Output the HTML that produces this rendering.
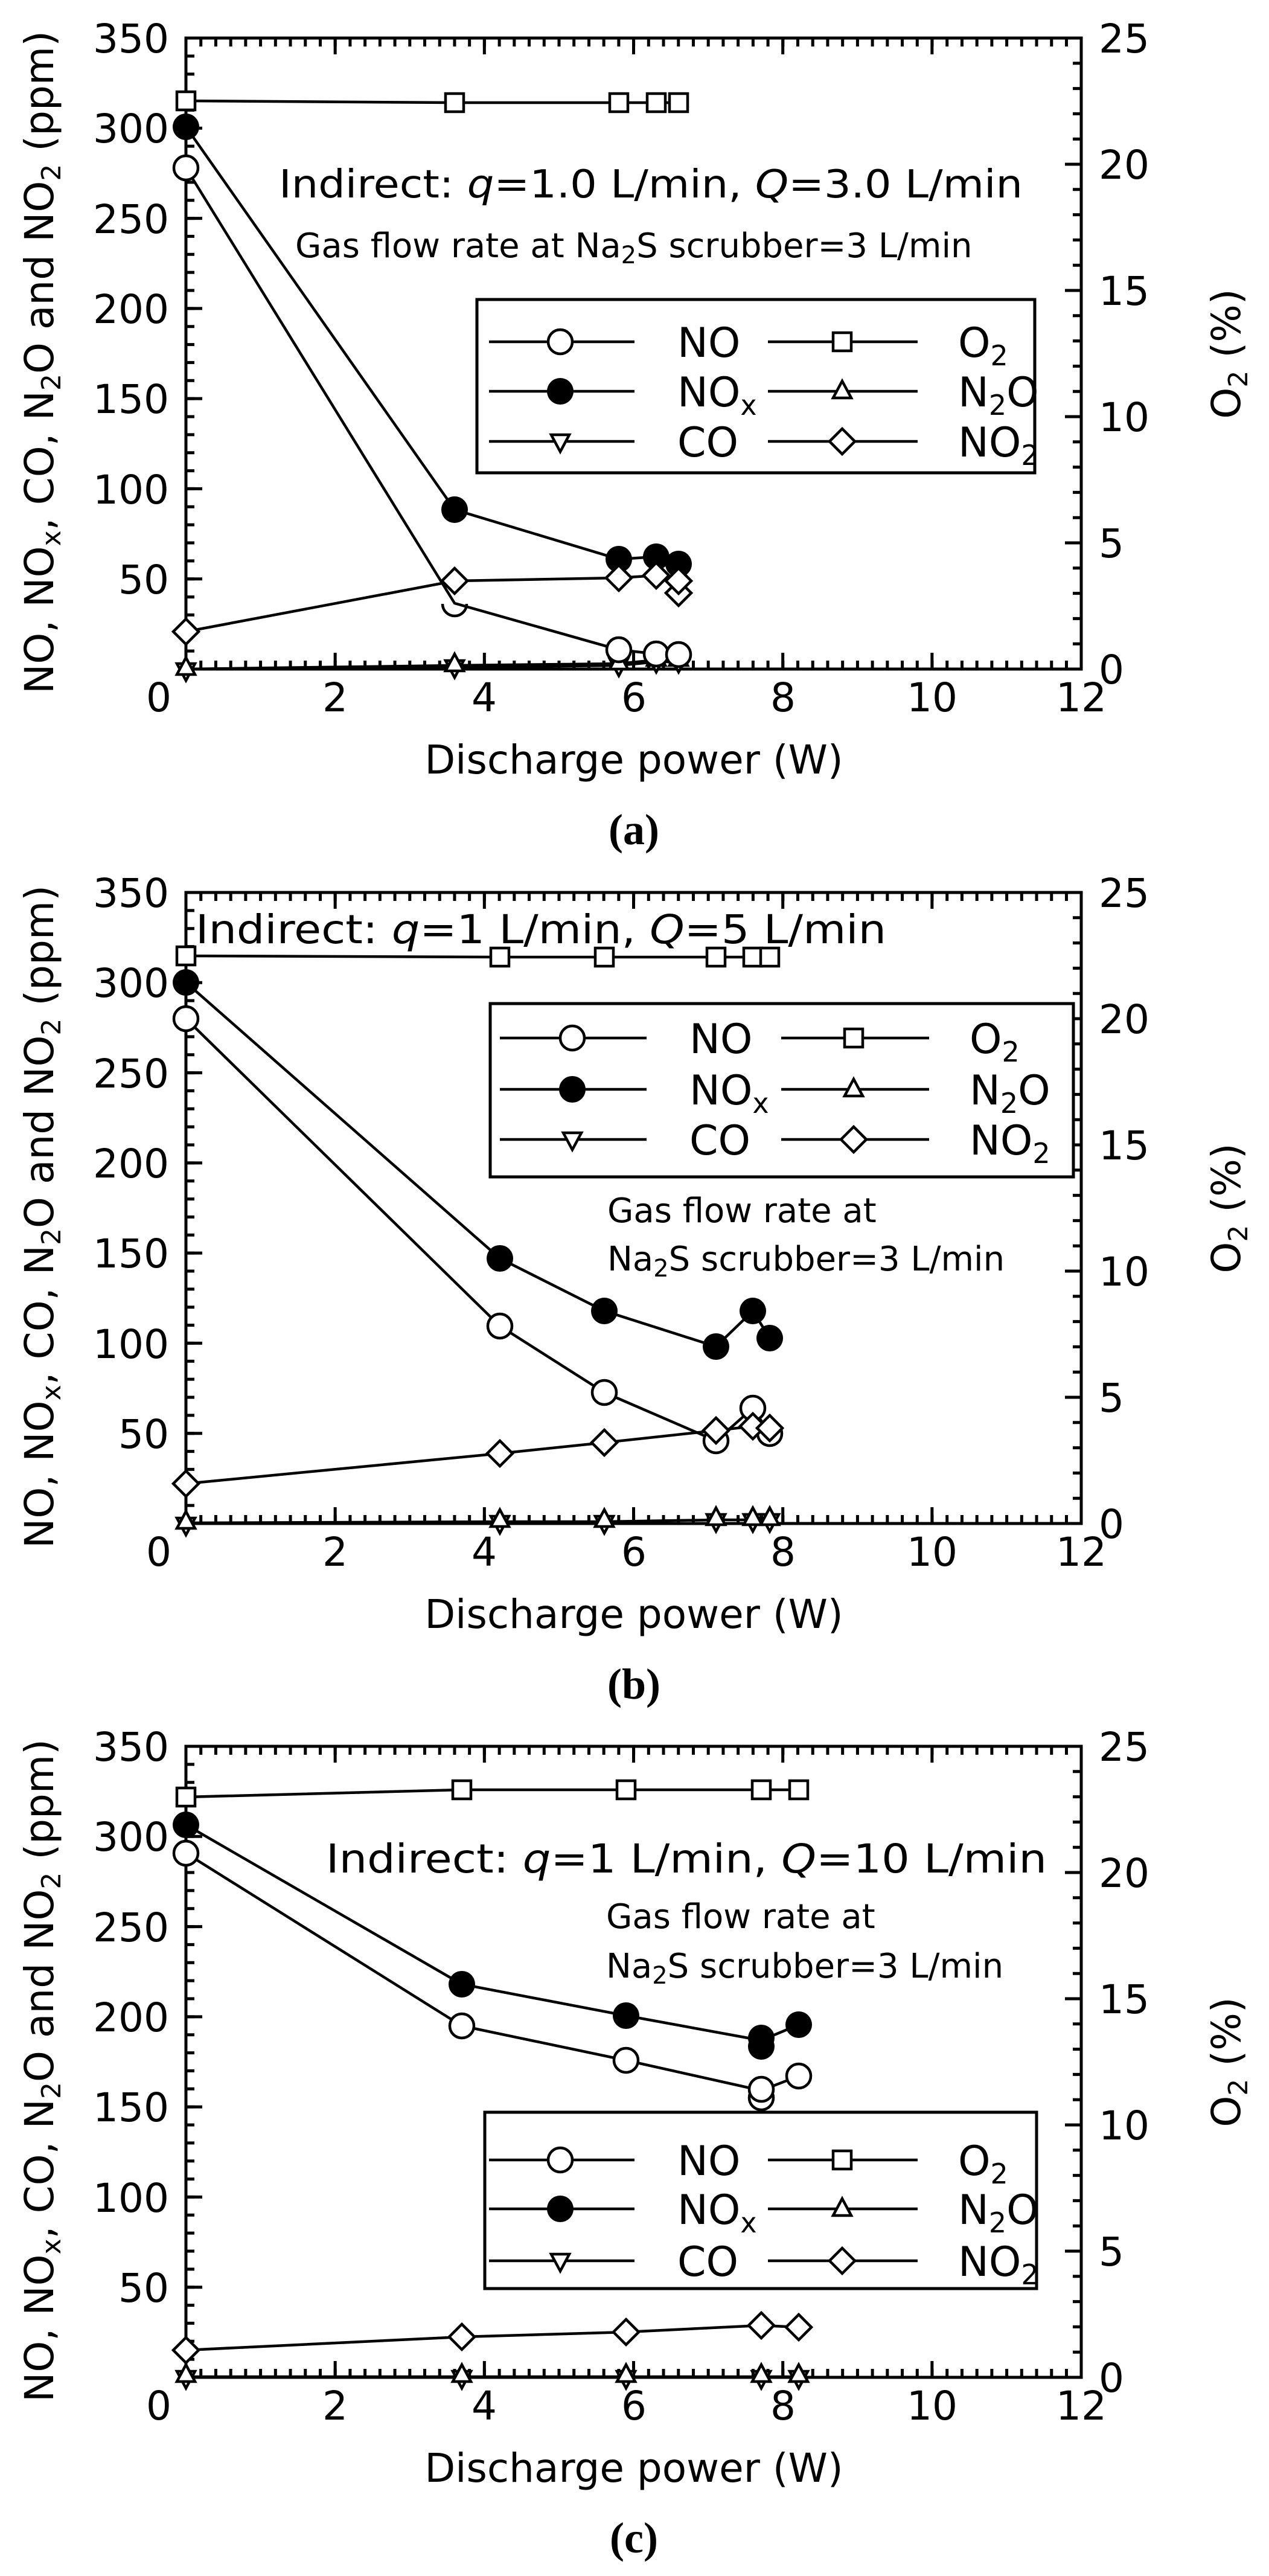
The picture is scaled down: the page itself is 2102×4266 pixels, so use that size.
<!DOCTYPE html>
<html><head><meta charset="utf-8"><style>
html,body{margin:0;padding:0;background:#fff}
svg{display:block}
text{font-family:"DejaVu Sans","Liberation Sans",sans-serif;fill:#000}
.cap{font-family:"Liberation Serif",serif;font-weight:bold;font-size:72px}
.tk{fill:none;stroke:#000}
</style></head><body>
<svg width="2102" height="4266" viewBox="0 0 2102 4266" xmlns="http://www.w3.org/2000/svg">
<defs>
<g id="oc"><circle r="20" fill="#fff" stroke="#000" stroke-width="4.5"/></g>
<g id="fc"><circle r="22" fill="#000"/></g>
<g id="sq"><rect x="-15" y="-15" width="30" height="30" fill="#fff" stroke="#000" stroke-width="4.5"/></g>
<g id="tu"><path d="M0,-17 L15,11 L-15,11 Z" fill="#fff" stroke="#000" stroke-width="4.5"/></g>
<g id="td"><path d="M0,17 L15,-11 L-15,-11 Z" fill="#fff" stroke="#000" stroke-width="4.5"/></g>
<g id="dm"><path d="M0,-21 L21,0 L0,21 L-21,0 Z" fill="#fff" stroke="#000" stroke-width="4.5"/></g>
</defs>

<!-- frames with ticks -->
<g transform="translate(0,63)">
 <line class="tk" x1="315" y1="0" x2="315" y2="1045" stroke-width="14" stroke-dasharray="5 24.857" stroke-dashoffset="2.5"/>
 <line class="tk" x1="321.5" y1="0" x2="321.5" y2="1045" stroke-width="27" stroke-dasharray="5 144.286" stroke-dashoffset="2.5"/>
 <line class="tk" x1="1784" y1="0" x2="1784" y2="1045" stroke-width="14" stroke-dasharray="5 36.8" stroke-dashoffset="2.5"/>
 <line class="tk" x1="1777.5" y1="0" x2="1777.5" y2="1045" stroke-width="27" stroke-dasharray="5 204" stroke-dashoffset="2.5"/>
 <line class="tk" x1="308" y1="7" x2="1791" y2="7" stroke-width="14" stroke-dasharray="5 19.72" stroke-dashoffset="2.5"/>
 <line class="tk" x1="308" y1="13.5" x2="1791" y2="13.5" stroke-width="27" stroke-dasharray="5 242.17" stroke-dashoffset="2.5"/>
 <line class="tk" x1="308" y1="1038" x2="1791" y2="1038" stroke-width="14" stroke-dasharray="5 19.72" stroke-dashoffset="2.5"/>
 <line class="tk" x1="308" y1="1031.5" x2="1791" y2="1031.5" stroke-width="27" stroke-dasharray="5 242.17" stroke-dashoffset="2.5"/>
 <rect x="308" y="0" width="1483" height="1045" fill="none" stroke="#000" stroke-width="5"/>
</g>
<g transform="translate(0,1478)">
 <line class="tk" x1="315" y1="0" x2="315" y2="1045" stroke-width="14" stroke-dasharray="5 24.857" stroke-dashoffset="2.5"/>
 <line class="tk" x1="321.5" y1="0" x2="321.5" y2="1045" stroke-width="27" stroke-dasharray="5 144.286" stroke-dashoffset="2.5"/>
 <line class="tk" x1="1784" y1="0" x2="1784" y2="1045" stroke-width="14" stroke-dasharray="5 36.8" stroke-dashoffset="2.5"/>
 <line class="tk" x1="1777.5" y1="0" x2="1777.5" y2="1045" stroke-width="27" stroke-dasharray="5 204" stroke-dashoffset="2.5"/>
 <line class="tk" x1="308" y1="7" x2="1791" y2="7" stroke-width="14" stroke-dasharray="5 19.72" stroke-dashoffset="2.5"/>
 <line class="tk" x1="308" y1="13.5" x2="1791" y2="13.5" stroke-width="27" stroke-dasharray="5 242.17" stroke-dashoffset="2.5"/>
 <line class="tk" x1="308" y1="1038" x2="1791" y2="1038" stroke-width="14" stroke-dasharray="5 19.72" stroke-dashoffset="2.5"/>
 <line class="tk" x1="308" y1="1031.5" x2="1791" y2="1031.5" stroke-width="27" stroke-dasharray="5 242.17" stroke-dashoffset="2.5"/>
 <rect x="308" y="0" width="1483" height="1045" fill="none" stroke="#000" stroke-width="5"/>
</g>
<g transform="translate(0,2892)">
 <line class="tk" x1="315" y1="0" x2="315" y2="1045" stroke-width="14" stroke-dasharray="5 24.857" stroke-dashoffset="2.5"/>
 <line class="tk" x1="321.5" y1="0" x2="321.5" y2="1045" stroke-width="27" stroke-dasharray="5 144.286" stroke-dashoffset="2.5"/>
 <line class="tk" x1="1784" y1="0" x2="1784" y2="1045" stroke-width="14" stroke-dasharray="5 36.8" stroke-dashoffset="2.5"/>
 <line class="tk" x1="1777.5" y1="0" x2="1777.5" y2="1045" stroke-width="27" stroke-dasharray="5 204" stroke-dashoffset="2.5"/>
 <line class="tk" x1="308" y1="7" x2="1791" y2="7" stroke-width="14" stroke-dasharray="5 19.72" stroke-dashoffset="2.5"/>
 <line class="tk" x1="308" y1="13.5" x2="1791" y2="13.5" stroke-width="27" stroke-dasharray="5 242.17" stroke-dashoffset="2.5"/>
 <line class="tk" x1="308" y1="1038" x2="1791" y2="1038" stroke-width="14" stroke-dasharray="5 19.72" stroke-dashoffset="2.5"/>
 <line class="tk" x1="308" y1="1031.5" x2="1791" y2="1031.5" stroke-width="27" stroke-dasharray="5 242.17" stroke-dashoffset="2.5"/>
 <rect x="308" y="0" width="1483" height="1045" fill="none" stroke="#000" stroke-width="5"/>
</g>

<!-- ================= PANEL A (T=63) ================= -->
<g font-size="66">
<g text-anchor="end">
<text x="280" y="87">350</text><text x="280" y="236">300</text><text x="280" y="386">250</text>
<text x="280" y="535">200</text><text x="280" y="684">150</text><text x="280" y="834">100</text><text x="280" y="983">50</text>
</g>
<g>
<text x="1820" y="87">25</text><text x="1820" y="296">20</text><text x="1820" y="505">15</text>
<text x="1820" y="714">10</text><text x="1820" y="923">5</text><text x="1820" y="1132">0</text>
</g>
<g text-anchor="middle">
<text x="263" y="1178">0</text><text x="555" y="1178">2</text><text x="802" y="1178">4</text><text x="1050" y="1178">6</text>
<text x="1297" y="1178">8</text><text x="1544" y="1178">10</text><text x="1791" y="1178">12</text>
<text x="1050" y="1281">Discharge power (W)</text>
</g>
</g>
<text x="1050" y="1398" text-anchor="middle" class="cap">(a)</text>
<text transform="translate(88,600) rotate(-90)" text-anchor="middle" font-size="66">NO, NO<tspan font-size="44" dy="12">x</tspan><tspan dy="-12">, CO, N</tspan><tspan font-size="44" dy="12">2</tspan><tspan dy="-12">O and NO</tspan><tspan font-size="44" dy="12">2</tspan><tspan dy="-12"> (ppm)</tspan></text>
<text transform="translate(2054,586) rotate(-90)" text-anchor="middle" font-size="66">O<tspan font-size="44" dy="12">2</tspan><tspan dy="-12"> (%)</tspan></text>
<text x="462" y="327" font-size="64" textLength="1232" lengthAdjust="spacingAndGlyphs">Indirect: <tspan font-style="italic">q</tspan>=1.0 L/min, <tspan font-style="italic">Q</tspan>=3.0 L/min</text>
<text x="489" y="426" font-size="56">Gas flow rate at Na<tspan font-size="40" dy="10">2</tspan><tspan dy="-10">S scrubber=3 L/min</tspan></text>
<rect x="790" y="496" width="924" height="287" fill="#fff" stroke="#000" stroke-width="5"/>
<g stroke="#000" stroke-width="4.5">
<line x1="810" y1="566" x2="1051" y2="566"/><line x1="810" y1="648" x2="1051" y2="648"/><line x1="810" y1="731" x2="1051" y2="731"/>
<line x1="1272" y1="566" x2="1520" y2="566"/><line x1="1272" y1="648" x2="1520" y2="648"/><line x1="1272" y1="731" x2="1520" y2="731"/>
</g>
<use href="#oc" x="928" y="566"/><use href="#fc" x="928" y="648"/><use href="#td" x="928" y="731"/>
<use href="#sq" x="1395" y="566"/><use href="#tu" x="1395" y="648"/><use href="#dm" x="1395" y="731"/>
<g font-size="68">
<text x="1122" y="591">NO</text><text x="1122" y="673">NO<tspan font-size="46" dy="14">x</tspan></text><text x="1122" y="756">CO</text>
<text x="1587" y="591">O<tspan font-size="46" dy="14">2</tspan></text><text x="1587" y="673">N<tspan font-size="46" dy="14">2</tspan><tspan dy="-14">O</tspan></text><text x="1587" y="756">NO<tspan font-size="46" dy="14">2</tspan></text>
</g>
<g fill="none" stroke="#000" stroke-width="4.5">
<polyline points="308,167 753,170 1025,170 1087,170 1124,170"/>
<polyline points="308,210 753,844 1025,926 1087,922 1124,934"/>
<polyline points="308,278 753,999 1025,1076 1087,1083 1124,1084"/>
<polyline points="308,1046 753,962 1025,957 1087,953 1124,962 1124,982"/>
<polyline points="308,1108 753,1102 1025,1099 1087,1093 1124,1093"/>
<polyline points="308,1108 753,1105 1025,1102 1087,1096 1124,1096"/>
</g>
<g>
<use href="#td" x="308" y="1110"/><use href="#td" x="753" y="1105"/><use href="#td" x="1025" y="1102"/><use href="#td" x="1087" y="1096"/><use href="#td" x="1124" y="1096"/>
<use href="#tu" x="308" y="1106"/><use href="#tu" x="753" y="1100"/><use href="#tu" x="1025" y="1097"/><use href="#tu" x="1087" y="1091"/><use href="#tu" x="1124" y="1091"/>
<use href="#oc" x="308" y="278"/><path d="M733,1000 A20,20 0 0 0 773,1000" fill="none" stroke="#000" stroke-width="4.5"/><use href="#oc" x="1025" y="1076"/><use href="#oc" x="1087" y="1083"/><use href="#oc" x="1124" y="1084"/>
<use href="#fc" x="308" y="210"/><use href="#fc" x="753" y="844"/><use href="#fc" x="1025" y="926"/><use href="#fc" x="1087" y="922"/><use href="#fc" x="1124" y="934"/>
<use href="#dm" x="308" y="1046"/><use href="#dm" x="753" y="962"/><use href="#dm" x="1025" y="957"/><use href="#dm" x="1087" y="953"/><use href="#dm" x="1124" y="982"/><use href="#dm" x="1124" y="962"/>
<use href="#sq" x="308" y="167"/><use href="#sq" x="753" y="170"/><use href="#sq" x="1025" y="170"/><use href="#sq" x="1087" y="170"/><use href="#sq" x="1124" y="170"/>
</g>

<!-- ================= PANEL B (T=1478) ================= -->
<g font-size="66">
<g text-anchor="end">
<text x="280" y="1502">350</text><text x="280" y="1651">300</text><text x="280" y="1801">250</text>
<text x="280" y="1950">200</text><text x="280" y="2099">150</text><text x="280" y="2249">100</text><text x="280" y="2398">50</text>
</g>
<g>
<text x="1820" y="1502">25</text><text x="1820" y="1711">20</text><text x="1820" y="1920">15</text>
<text x="1820" y="2129">10</text><text x="1820" y="2338">5</text><text x="1820" y="2547">0</text>
</g>
<g text-anchor="middle">
<text x="263" y="2593">0</text><text x="555" y="2593">2</text><text x="802" y="2593">4</text><text x="1050" y="2593">6</text>
<text x="1297" y="2593">8</text><text x="1544" y="2593">10</text><text x="1791" y="2593">12</text>
<text x="1050" y="2696">Discharge power (W)</text>
</g>
</g>
<text x="1050" y="2813" text-anchor="middle" class="cap">(b)</text>
<text transform="translate(88,2015) rotate(-90)" text-anchor="middle" font-size="66">NO, NO<tspan font-size="44" dy="12">x</tspan><tspan dy="-12">, CO, N</tspan><tspan font-size="44" dy="12">2</tspan><tspan dy="-12">O and NO</tspan><tspan font-size="44" dy="12">2</tspan><tspan dy="-12"> (ppm)</tspan></text>
<text transform="translate(2054,2001) rotate(-90)" text-anchor="middle" font-size="66">O<tspan font-size="44" dy="12">2</tspan><tspan dy="-12"> (%)</tspan></text>
<text x="324" y="1562" font-size="66" textLength="1144" lengthAdjust="spacingAndGlyphs">Indirect: <tspan font-style="italic">q</tspan>=1 L/min, <tspan font-style="italic">Q</tspan>=5 L/min</text>
<text x="1006" y="2024" font-size="56">Gas flow rate at</text>
<text x="1006" y="2104" font-size="56">Na<tspan font-size="40" dy="10">2</tspan><tspan dy="-10">S scrubber=3 L/min</tspan></text>
<rect x="812" y="1662" width="966" height="287" fill="#fff" stroke="#000" stroke-width="5"/>
<g stroke="#000" stroke-width="4.5">
<line x1="828" y1="1719" x2="1071" y2="1719"/><line x1="828" y1="1804" x2="1071" y2="1804"/><line x1="828" y1="1887" x2="1071" y2="1887"/>
<line x1="1294" y1="1719" x2="1539" y2="1719"/><line x1="1294" y1="1804" x2="1539" y2="1804"/><line x1="1294" y1="1887" x2="1539" y2="1887"/>
</g>
<use href="#oc" x="948" y="1719"/><use href="#fc" x="948" y="1804"/><use href="#td" x="948" y="1887"/>
<use href="#sq" x="1414" y="1719"/><use href="#tu" x="1414" y="1804"/><use href="#dm" x="1414" y="1887"/>
<g font-size="68">
<text x="1142" y="1744">NO</text><text x="1142" y="1829">NO<tspan font-size="46" dy="14">x</tspan></text><text x="1142" y="1912">CO</text>
<text x="1606" y="1744">O<tspan font-size="46" dy="14">2</tspan></text><text x="1606" y="1829">N<tspan font-size="46" dy="14">2</tspan><tspan dy="-14">O</tspan></text><text x="1606" y="1912">NO<tspan font-size="46" dy="14">2</tspan></text>
</g>
<g fill="none" stroke="#000" stroke-width="4.5">
<polyline points="308,1583 828,1585 1001,1585 1186,1585 1247,1585 1275,1585"/>
<polyline points="308,1627 828,2084 1001,2171 1186,2230 1247,2171 1275,2216"/>
<polyline points="308,1687 828,2196 1001,2306 1186,2386 1247,2332 1275,2374"/>
<polyline points="308,2457 828,2407 1001,2389 1186,2369 1247,2362 1275,2365"/>
<polyline points="308,2522 828,2520 1001,2520 1186,2517 1247,2517 1275,2517"/>
</g>
<g>
<use href="#td" x="308" y="2525"/><use href="#td" x="828" y="2522"/><use href="#td" x="1001" y="2522"/><use href="#td" x="1186" y="2519"/><use href="#td" x="1247" y="2519"/><use href="#td" x="1275" y="2519"/>
<use href="#tu" x="308" y="2520"/><use href="#tu" x="828" y="2517"/><use href="#tu" x="1001" y="2517"/><use href="#tu" x="1186" y="2514"/><use href="#tu" x="1247" y="2514"/><use href="#tu" x="1275" y="2514"/>
<use href="#oc" x="308" y="1687"/><use href="#oc" x="828" y="2196"/><use href="#oc" x="1001" y="2306"/><use href="#oc" x="1186" y="2386"/><use href="#oc" x="1247" y="2332"/><use href="#oc" x="1275" y="2374"/>
<use href="#fc" x="308" y="1627"/><use href="#fc" x="828" y="2084"/><use href="#fc" x="1001" y="2171"/><use href="#fc" x="1186" y="2230"/><use href="#fc" x="1247" y="2171"/><use href="#fc" x="1275" y="2216"/>
<use href="#dm" x="308" y="2457"/><use href="#dm" x="828" y="2407"/><use href="#dm" x="1001" y="2389"/><use href="#dm" x="1186" y="2369"/><use href="#dm" x="1247" y="2362"/><use href="#dm" x="1275" y="2365"/>
<use href="#sq" x="308" y="1583"/><use href="#sq" x="828" y="1585"/><use href="#sq" x="1001" y="1585"/><use href="#sq" x="1186" y="1585"/><use href="#sq" x="1247" y="1585"/><use href="#sq" x="1275" y="1585"/>
</g>

<!-- ================= PANEL C (T=2892) ================= -->
<g font-size="66">
<g text-anchor="end">
<text x="280" y="2916">350</text><text x="280" y="3065">300</text><text x="280" y="3215">250</text>
<text x="280" y="3364">200</text><text x="280" y="3513">150</text><text x="280" y="3663">100</text><text x="280" y="3812">50</text>
</g>
<g>
<text x="1820" y="2916">25</text><text x="1820" y="3125">20</text><text x="1820" y="3334">15</text>
<text x="1820" y="3543">10</text><text x="1820" y="3752">5</text><text x="1820" y="3961">0</text>
</g>
<g text-anchor="middle">
<text x="263" y="4007">0</text><text x="555" y="4007">2</text><text x="802" y="4007">4</text><text x="1050" y="4007">6</text>
<text x="1297" y="4007">8</text><text x="1544" y="4007">10</text><text x="1791" y="4007">12</text>
<text x="1050" y="4110">Discharge power (W)</text>
</g>
</g>
<text x="1050" y="4227" text-anchor="middle" class="cap">(c)</text>
<text transform="translate(88,3429) rotate(-90)" text-anchor="middle" font-size="66">NO, NO<tspan font-size="44" dy="12">x</tspan><tspan dy="-12">, CO, N</tspan><tspan font-size="44" dy="12">2</tspan><tspan dy="-12">O and NO</tspan><tspan font-size="44" dy="12">2</tspan><tspan dy="-12"> (ppm)</tspan></text>
<text transform="translate(2054,3415) rotate(-90)" text-anchor="middle" font-size="66">O<tspan font-size="44" dy="12">2</tspan><tspan dy="-12"> (%)</tspan></text>
<text x="540" y="3101" font-size="66" textLength="1194" lengthAdjust="spacingAndGlyphs">Indirect: <tspan font-style="italic">q</tspan>=1 L/min, <tspan font-style="italic">Q</tspan>=10 L/min</text>
<text x="1004" y="3193" font-size="56">Gas flow rate at</text>
<text x="1004" y="3275" font-size="56">Na<tspan font-size="40" dy="10">2</tspan><tspan dy="-10">S scrubber=3 L/min</tspan></text>
<rect x="803" y="3498" width="914" height="292" fill="#fff" stroke="#000" stroke-width="5"/>
<g stroke="#000" stroke-width="4.5">
<line x1="810" y1="3577" x2="1051" y2="3577"/><line x1="810" y1="3658" x2="1051" y2="3658"/><line x1="810" y1="3744" x2="1051" y2="3744"/>
<line x1="1272" y1="3577" x2="1520" y2="3577"/><line x1="1272" y1="3658" x2="1520" y2="3658"/><line x1="1272" y1="3744" x2="1520" y2="3744"/>
</g>
<use href="#oc" x="928" y="3577"/><use href="#fc" x="928" y="3658"/><use href="#td" x="928" y="3744"/>
<use href="#sq" x="1395" y="3577"/><use href="#tu" x="1395" y="3658"/><use href="#dm" x="1395" y="3744"/>
<g font-size="68">
<text x="1122" y="3602">NO</text><text x="1122" y="3683">NO<tspan font-size="46" dy="14">x</tspan></text><text x="1122" y="3769">CO</text>
<text x="1587" y="3602">O<tspan font-size="46" dy="14">2</tspan></text><text x="1587" y="3683">N<tspan font-size="46" dy="14">2</tspan><tspan dy="-14">O</tspan></text><text x="1587" y="3769">NO<tspan font-size="46" dy="14">2</tspan></text>
</g>
<g fill="none" stroke="#000" stroke-width="4.5">
<polyline points="308,2976 765,2964 1037,2964 1261,2964 1323,2964"/>
<polyline points="308,3022 765,3286 1037,3338 1261,3379 1323,3353"/>
<polyline points="308,3069 765,3355 1037,3412 1261,3462 1323,3438"/>
<polyline points="308,3892 765,3870 1037,3862 1261,3851 1323,3854"/>
<polyline points="308,3936 765,3936 1037,3936 1261,3936 1323,3936"/>
</g>
<g>
<use href="#td" x="308" y="3938"/><use href="#td" x="765" y="3938"/><use href="#td" x="1037" y="3938"/><use href="#td" x="1261" y="3938"/><use href="#td" x="1323" y="3938"/>
<use href="#tu" x="308" y="3933"/><use href="#tu" x="765" y="3933"/><use href="#tu" x="1037" y="3933"/><use href="#tu" x="1261" y="3933"/><use href="#tu" x="1323" y="3933"/>
<use href="#oc" x="308" y="3069"/><use href="#oc" x="765" y="3355"/><use href="#oc" x="1037" y="3412"/><use href="#oc" x="1261" y="3474"/><use href="#oc" x="1261" y="3460"/><use href="#oc" x="1323" y="3438"/>
<use href="#fc" x="308" y="3022"/><use href="#fc" x="765" y="3286"/><use href="#fc" x="1037" y="3338"/><use href="#fc" x="1261" y="3389"/><use href="#fc" x="1261" y="3375"/><use href="#fc" x="1323" y="3353"/>
<use href="#dm" x="308" y="3892"/><use href="#dm" x="765" y="3870"/><use href="#dm" x="1037" y="3862"/><use href="#dm" x="1261" y="3851"/><use href="#dm" x="1323" y="3854"/>
<use href="#sq" x="308" y="2976"/><use href="#sq" x="765" y="2964"/><use href="#sq" x="1037" y="2964"/><use href="#sq" x="1261" y="2964"/><use href="#sq" x="1323" y="2964"/>
</g>
</svg>
</body></html>
